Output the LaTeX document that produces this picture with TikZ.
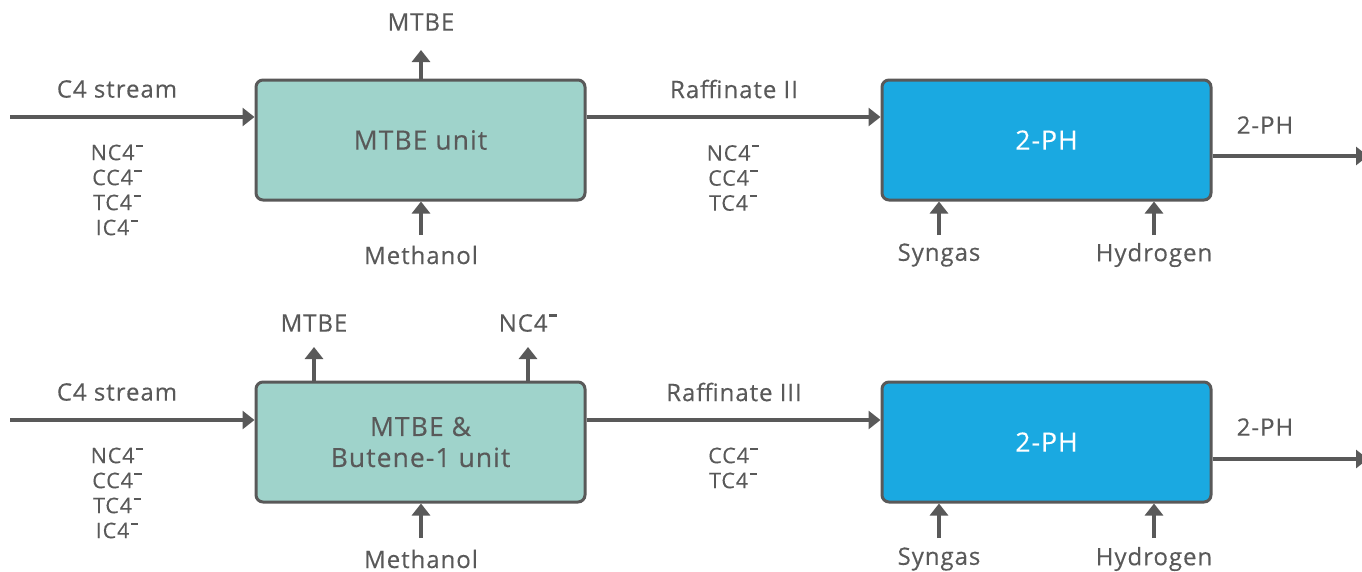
\documentclass[tikz,border=0pt]{standalone}
\usepackage{fontspec}
\setmainfont{Open Sans}[LetterSpace=4,FakeBold=0.3]
\usetikzlibrary{arrows.meta}
\definecolor{ink}{HTML}{595959}
\definecolor{teal}{HTML}{9FD3CB}
\definecolor{sky}{HTML}{1AA9E1}
\newcommand{\dbl}{\kern1.5pt\rule[0.62em]{0.34em}{0.1em}}
\begin{document}
\begin{tikzpicture}[x=1pt,y=-1pt,
  unitbox/.style={draw=ink,line width=3pt,rounded corners=7pt,fill=teal,minimum width=329pt,minimum height=120pt,text=ink,font=\fontsize{26.5}{32}\selectfont,align=center},
  phbox/.style={unitbox,fill=sky,text=white},
  flow/.style={draw=ink,line width=3.2pt,-{Triangle[length=12pt,width=18pt]}},
  lbl/.style={text=ink,font=\fontsize{24}{25}\selectfont,inner sep=0pt,align=center},
  stk/.style={text=ink,font=\fontsize{21.5}{25}\selectfont,inner sep=0pt,align=center}]
\useasboundingbox (0,0) rectangle (1362,571);
% ---------- top row ----------
\node[unitbox] (u1) at (420.5,140) {MTBE unit};
\node[phbox] (p1) at (1046.5,140) {2-PH};
\coordinate (in1) at (10,117);
\draw[flow] (in1) -- (in1 -| u1.west);
\node[lbl] (c4a) at (117,89) {C4 stream};
\node[stk] (s1) at (117,190) {NC4\dbl\\CC4\dbl\\TC4\dbl\\IC4\dbl};
\coordinate (mt1) at (421,50);
\draw[flow] (mt1 |- u1.north) -- (mt1);
\node[lbl] (mtbe1) at (421,22) {MTBE};
\coordinate (me1) at (421,235);
\draw[flow] (me1) -- (me1 |- u1.south);
\node[lbl] (meth1) at (421,255) {Methanol};
\draw[flow] (u1.east |- in1) -- (p1.west |- in1);
\node[lbl] (raf1) at (734,89) {Raffinate II};
\node[stk] (s2) at (733,178) {NC4\dbl\\CC4\dbl\\TC4\dbl};
\coordinate (out1) at (1368,156);
\draw[flow] (p1.east |- out1) -- (out1);
\node[lbl] (ph1) at (1265,125) {2-PH};
\coordinate (sy1) at (939,235);
\draw[flow] (sy1) -- (sy1 |- p1.south);
\node[lbl] (syn1) at (939,255) {Syngas};
\coordinate (hy1) at (1154,235);
\draw[flow] (hy1) -- (hy1 |- p1.south);
\node[lbl] (hyd1) at (1154,255) {Hydrogen};
% ---------- bottom row ----------
\node[unitbox] (u2) at (420.5,442) {MTBE \&\\[-1pt]Butene-1 unit};
\node[phbox] (p2) at (1046.5,442) {2-PH};
\coordinate (in2) at (10,420);
\draw[flow] (in2) -- (in2 -| u2.west);
\node[lbl] (c4b) at (117,392) {C4 stream};
\node[stk] (s3) at (117,493) {NC4\dbl\\CC4\dbl\\TC4\dbl\\IC4\dbl};
\coordinate (mt2) at (314,347);
\draw[flow] (mt2 |- u2.north) -- (mt2);
\node[lbl] (mtbe2) at (314,323) {MTBE};
\coordinate (nc2) at (528,347);
\draw[flow] (nc2 |- u2.north) -- (nc2);
\node[lbl] (nco2) at (528,323) {NC4\dbl};
\coordinate (me2) at (421,538);
\draw[flow] (me2) -- (me2 |- u2.south);
\node[lbl] (meth2) at (421,559) {Methanol};
\draw[flow] (u2.east |- in2) -- (p2.west |- in2);
\node[lbl] (raf2) at (734,392) {Raffinate III};
\node[stk] (s4) at (733,468) {CC4\dbl\\TC4\dbl};
\coordinate (out2) at (1368,459);
\draw[flow] (p2.east |- out2) -- (out2);
\node[lbl] (ph2) at (1265,427) {2-PH};
\coordinate (sy2) at (939,538);
\draw[flow] (sy2) -- (sy2 |- p2.south);
\node[lbl] (syn2) at (939,559) {Syngas};
\coordinate (hy2) at (1154,538);
\draw[flow] (hy2) -- (hy2 |- p2.south);
\node[lbl] (hyd2) at (1154,559) {Hydrogen};
\end{tikzpicture}
\end{document}
